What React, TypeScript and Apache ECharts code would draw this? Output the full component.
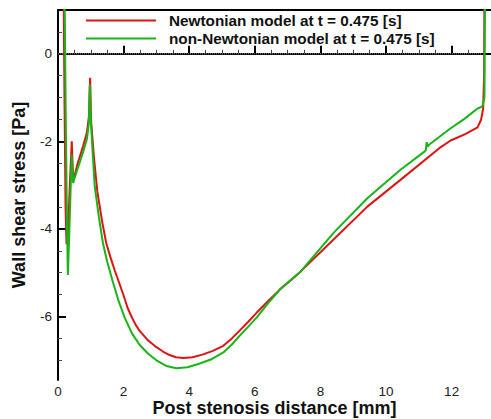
import React, { useEffect, useRef } from "react";
import * as echarts from "echarts";

const newtonianX = [0.17, 0.2, 0.23, 0.26, 0.3, 0.36, 0.42, 0.46, 0.5, 0.6, 0.75, 0.88, 0.94, 0.98, 1.01, 1.1, 1.2, 1.35, 1.47, 1.6, 1.73, 1.85, 2.0, 2.12, 2.24, 2.36, 2.49, 2.75, 3.0, 3.2, 3.4, 3.6, 3.82, 4.1, 4.4, 4.7, 5.04, 5.3, 5.5, 5.8, 6.06, 6.4, 6.77, 7.1, 7.4, 8.4, 9.43, 10.44, 11.67, 11.97, 12.4, 12.79, 12.9, 12.96, 12.99, 13.0];
const newtonianY = [1.5, -1.2, -3.5, -4.35, -4.2, -3.0, -2.0, -2.85, -2.8, -2.5, -2.15, -1.8, -1.45, -0.55, -1.55, -2.4, -3.15, -3.85, -4.32, -4.65, -4.95, -5.2, -5.52, -5.8, -6.0, -6.18, -6.33, -6.55, -6.7, -6.8, -6.88, -6.93, -6.95, -6.93, -6.87, -6.79, -6.67, -6.5, -6.35, -6.12, -5.91, -5.65, -5.38, -5.17, -4.97, -4.24, -3.49, -2.88, -2.13, -1.98, -1.84, -1.68, -1.5, -1.25, -0.5, 1.5];

const nonNewtonianX = [0.2, 0.23, 0.26, 0.28, 0.3, 0.34, 0.38, 0.42, 0.46, 0.5, 0.6, 0.75, 0.88, 0.94, 0.97, 1.0, 1.06, 1.12, 1.25, 1.37, 1.5, 1.68, 1.85, 2.03, 2.25, 2.49, 2.75, 3.0, 3.3, 3.61, 3.95, 4.3, 4.7, 5.04, 5.3, 5.5, 5.8, 6.06, 6.4, 6.77, 7.1, 7.4, 8.4, 9.43, 10.44, 11.16, 11.21, 11.24, 11.27, 11.32, 11.97, 12.4, 12.79, 12.94, 13.0, 13.02];
const nonNewtonianY = [1.5, -1.0, -3.0, -4.1, -5.05, -4.2, -3.2, -2.3, -2.95, -2.85, -2.62, -2.28, -1.95, -1.6, -0.7, -1.5, -2.3, -3.03, -3.75, -4.32, -4.75, -5.23, -5.65, -6.02, -6.38, -6.65, -6.85, -7.0, -7.13, -7.18, -7.16, -7.08, -6.97, -6.82, -6.64, -6.47, -6.23, -6.02, -5.7, -5.38, -5.16, -4.97, -4.09, -3.3, -2.65, -2.24, -2.21, -2.02, -2.12, -2.07, -1.7, -1.48, -1.25, -1.2, -1.0, 1.5];

const zeroLineX = [0, 12.92];
const zeroLineY = [0, 0];

const xMajorTicks = [0, 2, 4, 6, 8, 10, 12];
const xMinorTicks = [0.5, 1, 1.5, 2.5, 3, 3.5, 4.5, 5, 5.5, 6.5, 7, 7.5, 8.5, 9, 9.5, 10.5, 11, 11.5, 12.5, 13];
const yMajorTicks = [0, -2, -4, -6];
const yMinorTicks = [0.5, -0.5, -1, -1.5, -2.5, -3, -3.5, -4.5, -5, -5.5, -6.5, -7];

const seriesNames = ["Newtonian model at t = 0.475 [s]", "non-Newtonian model at t = 0.475 [s]"];

const zip = (xs: number[], ys: number[]) => xs.map((x, i) => [x, ys[i]]);

const FONT = "'Liberation Sans', Arial, sans-serif";

export default function App() {
  const ref = useRef<HTMLDivElement>(null);
  useEffect(() => {
    if (!ref.current) return;
    const chart = echarts.init(ref.current, null, { renderer: "svg" });
    const xMin = 0, xMax = 13.2, yMin = -7.45, yMax = 1;
    chart.setOption({
      animation: false,
      backgroundColor: "#ffffff",
      textStyle: { fontFamily: FONT },
      grid: { left: 58, right: 0, top: 10, bottom: 39, containLabel: false, outerBoundsMode: "none" },
      legend: {
        data: seriesNames,
        orient: "vertical",
        left: 80,
        top: 8,
        padding: 5,
        itemWidth: 70,
        itemHeight: 14,
        itemGap: 3,
        itemStyle: { opacity: 0, borderWidth: 0 },
        textStyle: { fontFamily: FONT, fontWeight: "bold", fontSize: 15.3, lineHeight: 15, color: "#111", padding: [0, 0, 0, 8] },
      },
      xAxis: [
        {
          type: "value", position: "bottom", min: xMin, max: xMax,
          axisLine: { show: true, lineStyle: { color: "#000", width: 2 } },
          axisTick: { show: true, inside: true, length: 8, customValues: xMajorTicks, lineStyle: { color: "#000", width: 2 } },
          axisLabel: { show: true, customValues: xMajorTicks, margin: 5, fontSize: 13.5, lineHeight: 13, color: "#222", fontFamily: FONT },
          splitLine: { show: false },
          name: "Post stenosis distance [mm]",
          nameLocation: "middle",
          nameGap: 19,
          nameMoveOverlap: false,
          nameTextStyle: { fontFamily: FONT, fontWeight: "bold", fontSize: 18, lineHeight: 18, color: "#111" },
        },
        {
          type: "value", position: "bottom", min: xMin, max: xMax,
          axisLine: { show: false },
          axisTick: { show: true, inside: true, length: 4, customValues: xMinorTicks, lineStyle: { color: "#444", width: 1 } },
          axisLabel: { show: false },
          splitLine: { show: false },
        },
        {
          type: "value", position: "top", min: xMin, max: xMax,
          axisLine: { show: true, lineStyle: { color: "#000", width: 2 } },
          axisTick: { show: false },
          axisLabel: { show: false },
          splitLine: { show: false },
        },
      ],
      yAxis: [
        {
          type: "value", position: "left", min: yMin, max: yMax,
          axisLine: { show: true, lineStyle: { color: "#000", width: 2 } },
          axisTick: { show: true, inside: true, length: 8, customValues: yMajorTicks, lineStyle: { color: "#000", width: 2 } },
          axisLabel: { show: true, customValues: yMajorTicks, margin: 6, fontSize: 13.5, color: "#222", fontFamily: FONT },
          splitLine: { show: false },
          name: "Wall shear stress [Pa]",
          nameLocation: "middle",
          nameGap: 30,
          nameTextStyle: { fontFamily: FONT, fontWeight: "bold", fontSize: 18, color: "#111" },
        },
        {
          type: "value", position: "left", min: yMin, max: yMax,
          axisLine: { show: false },
          axisTick: { show: true, inside: true, length: 4, customValues: yMinorTicks, lineStyle: { color: "#444", width: 1 } },
          axisLabel: { show: false },
          splitLine: { show: false },
        },
      ],
      series: [
        {
          name: "zero",
          type: "line",
          data: zip(zeroLineX, zeroLineY),
          symbol: "none",
          silent: true,
          lineStyle: { color: "#8a8a8a", width: 1, type: "dotted" },
        },
        {
          name: seriesNames[0],
          type: "line",
          data: zip(newtonianX, newtonianY),
          symbol: "none",
          color: "#dd1414",
          lineStyle: { color: "#dd1414", width: 2 },
        },
        {
          name: seriesNames[1],
          type: "line",
          data: zip(nonNewtonianX, nonNewtonianY),
          symbol: "none",
          color: "#18b418",
          lineStyle: { color: "#18b418", width: 2 },
        },
      ],
    });
    return () => chart.dispose();
  }, []);
  return <div ref={ref} style={{ position: "fixed", left: 0, top: 0, width: 491, height: 419 }} />;
}
